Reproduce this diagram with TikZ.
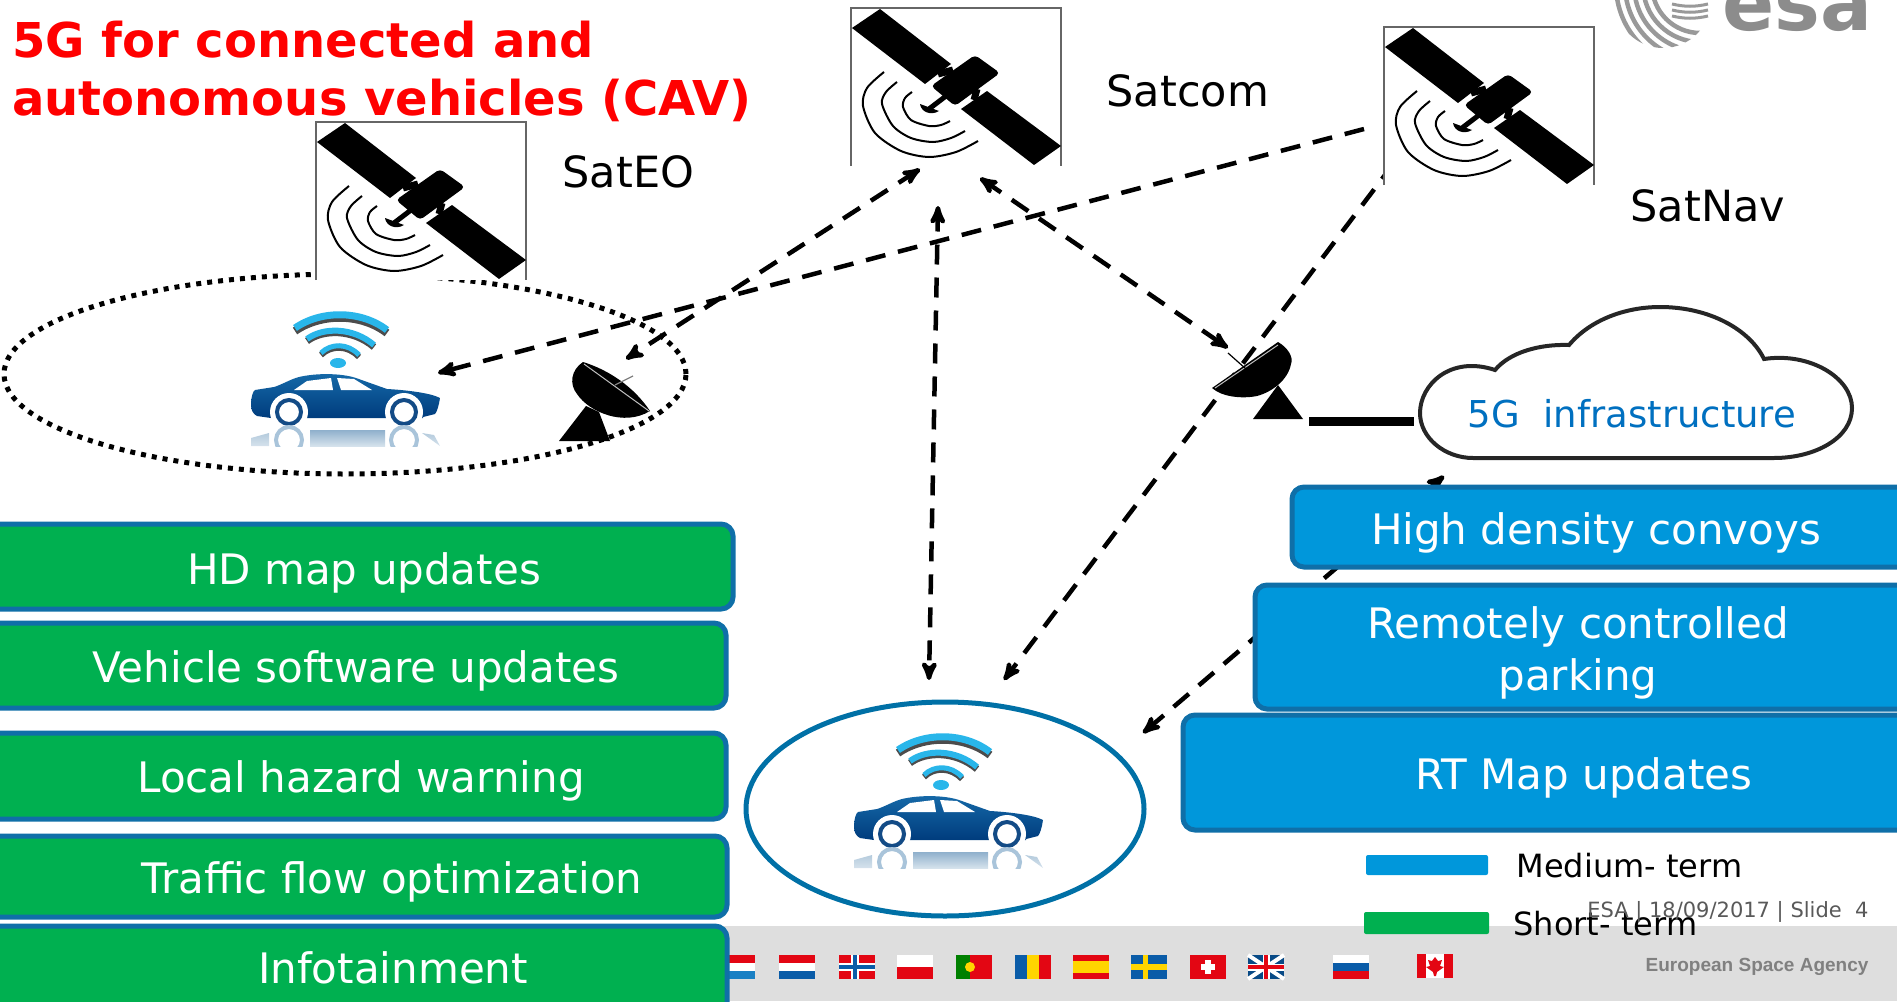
\documentclass[tikz,border=0pt]{standalone}
\usepackage{fontspec}
\setmainfont{DejaVu Sans}
\newfontfamily\libsans{Liberation Sans}
\usetikzlibrary{arrows}
\definecolor{boxedge}{HTML}{0F6FA8}
\definecolor{shortgreen}{HTML}{00B050}
\definecolor{mediumblue}{HTML}{0097DB}
\definecolor{ringblue}{HTML}{0070A6}
\definecolor{flagred}{HTML}{E30613}
\definecolor{flagblue}{HTML}{0A5CA8}
\definecolor{flagsky}{HTML}{1A80C4}
\definecolor{flagyellow}{HTML}{FFD500}
\definecolor{cartop}{HTML}{1569A8}
\definecolor{carbottom}{HTML}{003C7D}
\definecolor{carwheel}{HTML}{134B86}
\definecolor{mirrortop}{HTML}{8FB0CC}
\definecolor{mirrorside}{HTML}{B5CBDD}
\definecolor{mirrorlow}{HTML}{D5E2EC}
\definecolor{mirrorring}{HTML}{A9C4DA}
\definecolor{wifiblue}{HTML}{29B6EA}
\definecolor{cloudtext}{HTML}{0070C0}
\newcommand{\hflag}[4]{
 \fill[#2] (#1,955) rectangle ++(36,8);
 \fill[#3] (#1,963) rectangle ++(36,8);
 \fill[#4] (#1,971) rectangle ++(36,8);
}
\tikzset{
 link/.style={black, line width=4.5pt, dash pattern=on 20pt off 13pt, >=stealth'},
 greenbar/.style={draw=boxedge, fill=shortgreen, line width=5pt, rounded corners=12pt},
 bluebar/.style={draw=boxedge, fill=mediumblue, line width=5pt, rounded corners=12pt},
 barlabel/.style={white, anchor=base, font=\fontsize{42}{50}\selectfont},
 satlabel/.style={black, anchor=base west, font=\fontsize{43}{50}\selectfont},
 legendlabel/.style={black, anchor=base west, font=\fontsize{32}{38}\selectfont},
 satellite/.pic={
  \fill[white] (0,0) rectangle (210,158);
  \draw[gray!80!black, line width=1.2pt] (0,158) -- (0,0) -- (210,0) -- (210,158);
  \fill (29,1) -- (100,56) -- (74,76) -- (1,20) -- cycle;
  \fill (136,83) -- (210,138) -- (183,157) -- (110,101) -- cycle;
  \fill[rounded corners=4pt] (124,47) -- (149,65) -- (104,98) -- (80,78) -- cycle;
  \draw[line width=7pt] (87,66) -- (102,62);
  \draw[line width=7pt] (123,92) -- (126,81);
  \draw[line width=5pt] (78,101) -- (95,88);
  \fill (69,96) .. controls (70,104) and (80,108) .. (88,103) -- cycle;
  \draw[line width=2pt] plot[smooth] coordinates {(33,64) (16,80) (12,98) (24,125) (50,143) (78,149) (105,144) (127,133)};
  \draw[line width=2pt] plot[smooth] coordinates {(46,74) (35,84) (31,96) (42,118) (60,130) (82,134) (100,130) (114,123)};
  \draw[line width=2pt] plot[smooth] coordinates {(61,84) (54,90) (52,99) (60,112) (78,118) (90,117) (99,113)};
 },
 car/.pic={
  \path[shade, top color=cartop, bottom color=carbottom] (0,90) .. controls (0,82) and (2,76) .. (4,75) -- (23,72) .. controls (30,70) and (40,64) .. (48,62) .. controls (65,58) and (90,58) .. (105,63) -- (136,74) .. controls (155,75) and (180,78) .. (189,83) .. controls (188,90) and (186,97) .. (184,99) -- (172,102) -- (172,103) -- (20,103) -- (6,101) .. controls (2,99) and (0,95) .. (0,90) -- cycle;
  \fill[white] (43,75) -- (56,66) -- (80,63) -- (82,75) -- cycle;
  \fill[white] (86,63) -- (103,64) -- (121,75) -- (90,75) -- cycle;
  \foreach \x in {38,153} {
   \fill[white] (\x,97) circle (19pt);
   \draw[draw=carwheel, line width=4pt] (\x,97) circle (12pt);
  }
  \path[shade, top color=mirrortop, bottom color=mirrorlow] (59,115) rectangle (134,131);
  \path[shade, top color=mirrorside, bottom color=mirrorlow] (0,131) -- (0,123) -- (18,118) -- (18,131) -- cycle;
  \path[shade, top color=mirrorside, bottom color=mirrorlow] (171,118) -- (183,120) -- (189,131) -- cycle;
  \begin{scope}
   \clip (0,110) rectangle (189,131);
   \foreach \x in {38,153}
    \draw[draw=mirrorring, line width=4pt] (\x,125) circle (13pt);
  \end{scope}
  \draw[gray!60!black, line width=8pt] (44,16) .. controls (70,-2) and (110,-2) .. (136,18);
  \draw[wifiblue, line width=7pt] (44,13) .. controls (70,-5) and (110,-5) .. (136,15);
  \draw[gray!60!black, line width=7pt] (56,26) .. controls (72,14) and (102,14) .. (123,32);
  \draw[wifiblue, line width=6pt] (56,24) .. controls (72,12) and (102,12) .. (123,30);
  \draw[gray!60!black, line width=6pt] (70,40) .. controls (80,30) and (97,30) .. (108,42);
  \draw[wifiblue, line width=5pt] (70,38) .. controls (80,28) and (97,28) .. (108,40);
  \fill[wifiblue] (87,48) ellipse (8pt and 5pt);
 },
 dishleft/.pic={
  \fill (0,79) -- (51,79) -- (40,50) -- (27,44) -- cycle;
  \fill (24,0) .. controls (12,8) and (10,22) .. (18,32) .. controls (30,50) and (65,65) .. (91,49) .. controls (75,25) and (50,8) .. (24,0) -- cycle;
  \draw[gray!50, line width=1pt] (25,2) -- (90,49);
  \draw[gray, line width=1.2pt] (56,23) -- (74,14);
 },
 dishright/.pic={
  \fill (41,77) -- (91,77) -- (66,43) -- cycle;
  \fill (66,0) .. controls (75,5) and (82,15) .. (79,22) .. controls (76,38) and (60,50) .. (45,54) .. controls (30,57) and (10,55) .. (0,46) -- cycle;
  \draw[gray!50, line width=1pt] (66,3) -- (3,46);
  \draw[line width=1.2pt] (34,27) -- (16,11);
 },
}
\begin{document}
\begin{tikzpicture}[x=1pt, y=-1pt]
\useasboundingbox (0,0) rectangle (1897,1001);
% footer band and flags
\fill[gray!26] (0,926) rectangle (1897,1001);
\foreach \x/\a/\b/\c in {719/flagred/white/flagsky, 779/flagred/white/flagblue, 1333/white/flagblue/flagred} {
 \hflag{\x}{\a}{\b}{\c}
}
\fill[white] (897,955) rectangle ++(36,12);
\fill[flagred] (897,967) rectangle ++(36,12);
\fill[flagred] (1073,955) rectangle ++(36,6); \fill[flagyellow] (1073,961) rectangle ++(36,12); \fill[flagred] (1073,973) rectangle ++(36,6);
% Norway, Portugal, Romania, Sweden
\fill[flagred] (839,955) rectangle ++(36,24);
\fill[white] (851,955) rectangle ++(8,24); \fill[white] (839,963) rectangle ++(36,8);
\fill[flagblue] (853,955) rectangle ++(4,24); \fill[flagblue] (839,965) rectangle ++(36,4);
\fill[flagred] (956,955) rectangle ++(36,24); \fill[green!50!black] (956,955) rectangle ++(14,24);
\fill[flagyellow] (970,967) circle (5pt);
\fill[flagblue] (1015,955) rectangle ++(12,24); \fill[flagyellow] (1027,955) rectangle ++(12,24); \fill[flagred] (1039,955) rectangle ++(12,24);
\fill[flagblue] (1131,955) rectangle ++(36,24);
\fill[flagyellow] (1143,955) rectangle ++(5,24); \fill[flagyellow] (1131,964) rectangle ++(36,6);
% Switzerland, UK, Canada
\fill[flagred] (1190,955) rectangle ++(36,24);
\fill[white] (1205,960) rectangle ++(6,14); \fill[white] (1201,964) rectangle ++(14,6);
\fill[flagblue!80!black] (1248,955) rectangle ++(36,24);
\draw[white, line width=4pt] (1248,955) -- (1284,979) (1248,979) -- (1284,955);
\draw[white, line width=7pt] (1266,955) -- (1266,979) (1248,967) -- (1284,967);
\draw[flagred, line width=4pt] (1266,955) -- (1266,979) (1248,967) -- (1284,967);
\fill[white] (1417,954) rectangle ++(36,24);
\fill[flagred] (1417,954) rectangle ++(9,24); \fill[flagred] (1444,954) rectangle ++(9,24);
\fill[flagred] (1435,957) -- (1438,961) -- (1442,960) -- (1440,966) -- (1444,967) -- (1437,972) -- (1436,976) -- (1434,976) -- (1433,972) -- (1426,967) -- (1430,966) -- (1428,960) -- (1432,961) -- cycle;
% coverage areas
\draw[black, line width=5pt, dash pattern=on 5pt off 6pt] (345,374) ellipse (341pt and 100pt);
\draw[ringblue, line width=5pt] (945,809) ellipse (199pt and 107pt);
\pic at (251,315) {car};
\pic at (854,737) {car};
% links
\coordinate (navL) at (1364,129);
\coordinate (carL) at (438,373);
\coordinate (comL) at (920,169);
\coordinate (dishL) at (626,359);
\coordinate (comB) at (938,206);
\coordinate (carB) at (929,680);
\coordinate (comR) at (980,178);
\coordinate (dishR) at (1228,348);
\coordinate (navB) at (1394,163);
\coordinate (carT) at (1004,680);
\coordinate (carR) at (1143,733);
\coordinate (cloudB) at (1444,476);
\draw[link,->] (navL) -- (carL);
\draw[link,<->] (comL) -- (dishL);
\draw[link,<->] (comB) -- (carB);
\draw[link,<->] (comR) -- (dishR);
\draw[link,->] (navB) -- (carT);
\draw[link,<->] (cloudB) -- (carR);
% satellites and ground stations
\pic at (316,122) {satellite};
\pic at (851,8) {satellite};
\pic at (1384,27) {satellite};
\pic at (559,362) {dishleft};
\pic at (1212,342) {dishright};
\node[satlabel] (sateo) at (559,187) {SatEO};
\node[satlabel] (satcom) at (1103,106) {Satcom};
\node[satlabel] (satnav) at (1627,221) {SatNav};
% cloud
\draw[line width=4pt, draw=black!85, fill=white] (1495,370) .. controls (1510,352) and (1540,344) .. (1569,345) .. controls (1590,320) and (1625,307) .. (1660,307) .. controls (1710,307) and (1750,330) .. (1764,359) .. controls (1810,352) and (1852,378) .. (1852,408) .. controls (1852,438) and (1815,458) .. (1774,458) -- (1473,458) .. controls (1445,458) and (1420,438) .. (1420,413) .. controls (1420,385) and (1450,355) .. (1495,370) -- cycle;
\node[anchor=base, text=cloudtext, font=\fontsize{37}{44}\selectfont] (infra) at (1632,427) {5G\ \ infrastructure};
\coordinate (dishBase) at (1309,421);
\coordinate (cloudL) at (1414,421);
\draw[black, line width=9pt] (dishBase) -- (cloudL);
% short term bars
\foreach \n/\r/\t/\b/\tx/\by/\lab in {hd/733/524/609/364/584/HD map updates, soft/726/623/708/356/682/Vehicle software updates, hazard/726/733/819/361/792/Local hazard warning, flow/727/836/917/392/893/Traffic flow optimization, info/727/926/1020/393/983/Infotainment} {
 \draw[greenbar] (-14,\t) rectangle (\r,\b);
 \node[barlabel] (\n) at (\tx,\by) {\lab};
}
% medium term bars
\foreach \n/\l/\t/\b/\tx/\by/\lab in {convoy/1292/487/567/1596/544/High density convoys, rt/1183/715/830/1584/789/RT Map updates} {
 \draw[bluebar] (\l,\t) rectangle (1915,\b);
 \node[barlabel] (\n) at (\tx,\by) {\lab};
}
\draw[bluebar] (1255,585) rectangle (1915,709);
\node[barlabel] (remote) at (1578,638) {Remotely controlled};
\node[barlabel] (park) at (1578,690) {parking};
% legend
\fill[mediumblue, rounded corners=2pt] (1366,855) rectangle (1488,875);
\fill[shortgreen, rounded corners=2pt] (1364,912) rectangle (1489,934);
\node[legendlabel] (medium) at (1513,877) {Medium- term};
\node[legendlabel] (short) at (1510,935) {Short- term};
% footer text
\node[anchor=base east, text=black!65, font=\fontsize{21}{25}\selectfont] (slide) at (1872,917) {ESA | 18/09/2017 | Slide\ \ 4};
\node[anchor=base east, text=gray, font=\fontsize{19}{23}\selectfont\libsans\bfseries] (agency) at (1872,971) {European Space Agency};
% logo
\node[anchor=base west, text=gray!90, font=\fontsize{77}{80}\selectfont\bfseries, inner sep=0pt] (esa) at (1722,30) {esa};
\begin{scope}
 \clip (1663,0) circle (48pt);
 \foreach \r in {48,57,...,120}
  \draw[gray!80, line width=4.5pt] (1700,-15) circle (\r pt);
\end{scope}
\fill[white] (1672,0) -- (1708,0) -- (1708,18) -- (1675,18) -- cycle;
\foreach \y in {4,10,16}
 \draw[gray!80, line width=3pt] (1672,\y) .. controls (1685,\y+3) and (1695,\y+3) .. (1708,\y);
% title
\node[anchor=north west, align=left, inner sep=0pt, text=red, font=\fontsize{48}{58}\selectfont\bfseries] (title) at (12,21) {5G for connected and\\autonomous vehicles (CAV)};
\end{tikzpicture}
\end{document}
